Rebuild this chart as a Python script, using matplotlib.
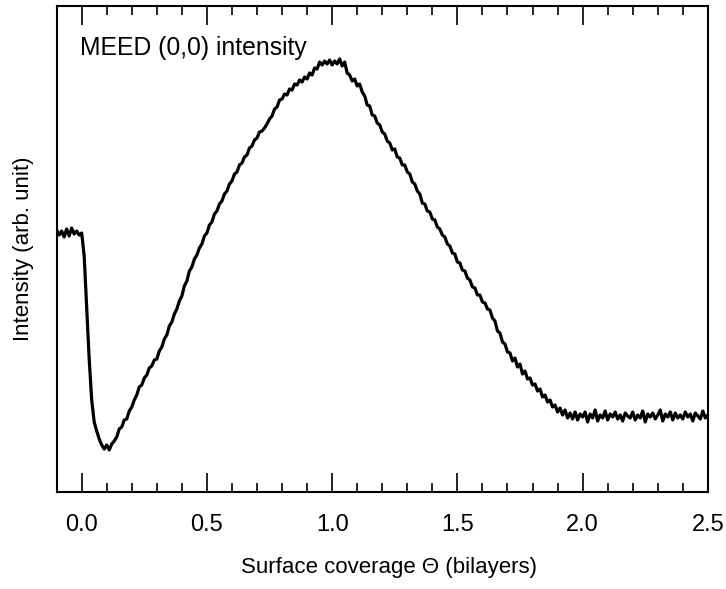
import numpy as np
import matplotlib
matplotlib.use("Agg")
import matplotlib.pyplot as plt
from matplotlib.ticker import MultipleLocator

plt.rcParams['font.family'] = ['Liberation Sans', 'DejaVu Sans']

# coverage grid (bilayers), one sample every 0.01
coverage = np.round(np.arange(-0.10, 2.5001, 0.01), 2)

# MEED (0,0) intensity, arb. units
intensity = [
    262, 257, 261, 255, 263, 256, 264, 258, 261, 257, 259,   # -0.10 .. 0.00
    236, 184, 133, 92, 70, 61, 53, 47, 43,                   # 0.01 .. 0.09
    47, 42, 48, 51, 55, 63, 65, 72, 73, 81,
    85, 92, 97, 105, 107, 114, 117, 124, 126, 132,
    133, 141, 145, 153, 157, 166, 170, 178, 183, 191,
    196, 206, 211, 221, 225, 233, 237, 244, 248, 256,
    259, 267, 270, 278, 281, 288, 291, 298, 301, 308,
    311, 318, 320, 327, 329, 335, 337, 344, 346, 352,
    354, 360, 361, 364, 368, 373, 376, 383, 385, 392,
    393, 398, 397, 403, 402, 408, 407, 412, 410, 415,
    413, 419, 417, 424, 423, 430, 427, 431, 428, 432,
    427, 431, 428, 433, 426, 430, 419, 417, 411, 413,
    406, 408, 400, 396, 387, 386, 377, 376, 369, 367,
    360, 358, 351, 349, 342, 343, 335, 334, 327, 327,
    320, 318, 310, 308, 301, 298, 289, 288, 281, 280,
    273, 272, 265, 263, 257, 255, 248, 246, 239, 238,
    230, 229, 222, 221, 214, 212, 205, 204, 197, 197,
    190, 189, 183, 182, 174, 171, 161, 159, 150, 148,
    140, 139, 131, 134, 125, 128, 118, 121, 113, 114,
    107, 108, 101, 103, 95, 97, 90, 92, 85, 87,
    80, 84, 77, 82, 74, 79, 73, 80, 72, 78,
    75, 80, 70, 78, 74, 82, 71, 77, 74, 81,
    72, 78, 75, 80, 73, 77, 71, 79, 76, 74,
    80, 72, 77, 74, 81, 70, 78, 75, 79, 73,
    77, 82, 71, 78, 75, 80, 72, 79, 74, 77,
    73, 80, 75, 78, 71, 79, 76, 73, 81, 74,
    77,                                                      # 2.50
]

xtick_vals = [0.0, 0.5, 1.0, 1.5, 2.0, 2.5]
xtick_labels = ["0.0", "0.5", "1.0", "1.5", "2.0", "2.5"]

fig = plt.figure(figsize=(7.26, 5.89), dpi=100)
ax = fig.add_axes([0.078, 0.1647, 0.897, 0.8251])

ax.plot(coverage, intensity, color="black", lw=2.3, solid_joinstyle="round")

ax.set_xlim(-0.1, 2.5)
ax.set_ylim(0, 486)
ax.set_xticks(xtick_vals)
ax.set_xticklabels(xtick_labels)
ax.xaxis.set_minor_locator(MultipleLocator(0.1))
ax.set_yticks([])

ax.tick_params(axis="x", which="major", direction="in", length=13.5, width=1.2,
               top=True, bottom=True, labelsize=17, pad=15.5)
ax.tick_params(axis="x", which="minor", direction="in", length=6.5, width=1.2,
               top=True, bottom=True)
for sp in ax.spines.values():
    sp.set_linewidth(1.5)

ax.set_xlabel("Surface coverage \u0398 (bilayers)", fontsize=16)
ax.xaxis.set_label_coords(0.511, -0.134)
ax.set_ylabel("Intensity (arb. unit)", fontsize=16)
ax.yaxis.set_label_coords(-0.035, 0.5)

ax.text(0.036, 0.913, "MEED (0,0) intensity", transform=ax.transAxes,
        fontsize=17.8, va="center", ha="left")

fig.savefig("out.png", dpi=100)
